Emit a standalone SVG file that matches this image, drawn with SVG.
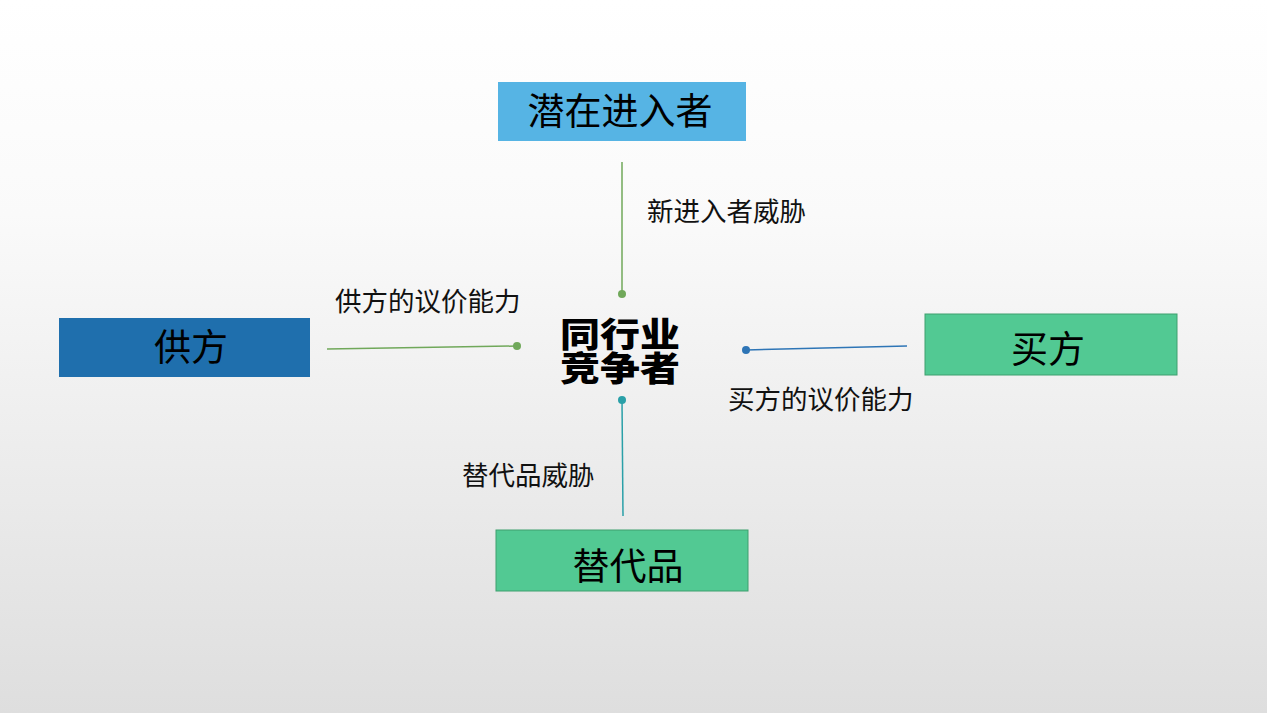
<svg xmlns="http://www.w3.org/2000/svg" width="1267" height="713" viewBox="0 0 1267 713">
<defs>
<linearGradient id="bg" x1="0" y1="0" x2="0" y2="1">
<stop offset="0" stop-color="#ffffff"/>
<stop offset="0.3" stop-color="#fafafa"/>
<stop offset="1" stop-color="#dedede"/>
</linearGradient>
<style>
.t{font-family:"Noto Sans CJK SC","Noto Sans",sans-serif;fill:#000;}
.box{font-size:37px;text-anchor:middle;}
.lbl{font-size:26.5px;fill:#111;}
.ctr{font-size:40px;font-weight:900;text-anchor:middle;}
.green{fill:#52c993;stroke:#3f9f6e;stroke-width:1;}
</style>
</defs>
<rect width="1267" height="713" fill="url(#bg)"/>
<g id="connectors">
<line x1="622" y1="162" x2="622" y2="294" stroke="#70a85a" stroke-width="1.5"/>
<circle cx="622" cy="294" r="4" fill="#70a85a"/>
<line x1="327" y1="349" x2="517" y2="346" stroke="#70a85a" stroke-width="1.5"/>
<circle cx="517" cy="346" r="4" fill="#70a85a"/>
<line x1="907" y1="346" x2="746" y2="350" stroke="#2e75b6" stroke-width="1.5"/>
<circle cx="746" cy="350" r="4" fill="#2e75b6"/>
<line x1="623" y1="516" x2="622" y2="400" stroke="#2aa0a8" stroke-width="1.5"/>
<circle cx="622" cy="400" r="4" fill="#2aa0a8"/>
</g>
<g id="labels">
<text class="t lbl" x="647" y="221">新进入者威胁</text>
<text class="t lbl" x="335" y="311">供方的议价能力</text>
<text class="t lbl" x="728" y="409">买方的议价能力</text>
<text class="t lbl" x="462" y="485">替代品威胁</text>
</g>
<g id="node-potential">
<rect x="498" y="82" width="248" height="59" fill="#56b4e4"/>
<text class="t box" x="620" y="125">潜在进入者</text>
</g>
<g id="node-supplier">
<rect x="59" y="318" width="251" height="59" fill="#1f6fad"/>
<text class="t box" x="191" y="361">供方</text>
</g>
<g id="node-buyer">
<rect x="925" y="314" width="252" height="61" class="green"/>
<text class="t box" x="1048" y="363">买方</text>
</g>
<g id="node-substitute">
<rect x="496" y="530" width="252" height="61" class="green"/>
<text class="t box" x="628" y="580">替代品</text>
</g>
<g id="node-center">
<text class="t ctr" transform="matrix(1 0 0 0.84 620 347)" x="0" y="0">同行业</text>
<text class="t ctr" transform="matrix(1 0 0 0.84 620 381)" x="0" y="0">竞争者</text>
</g>
</svg>
